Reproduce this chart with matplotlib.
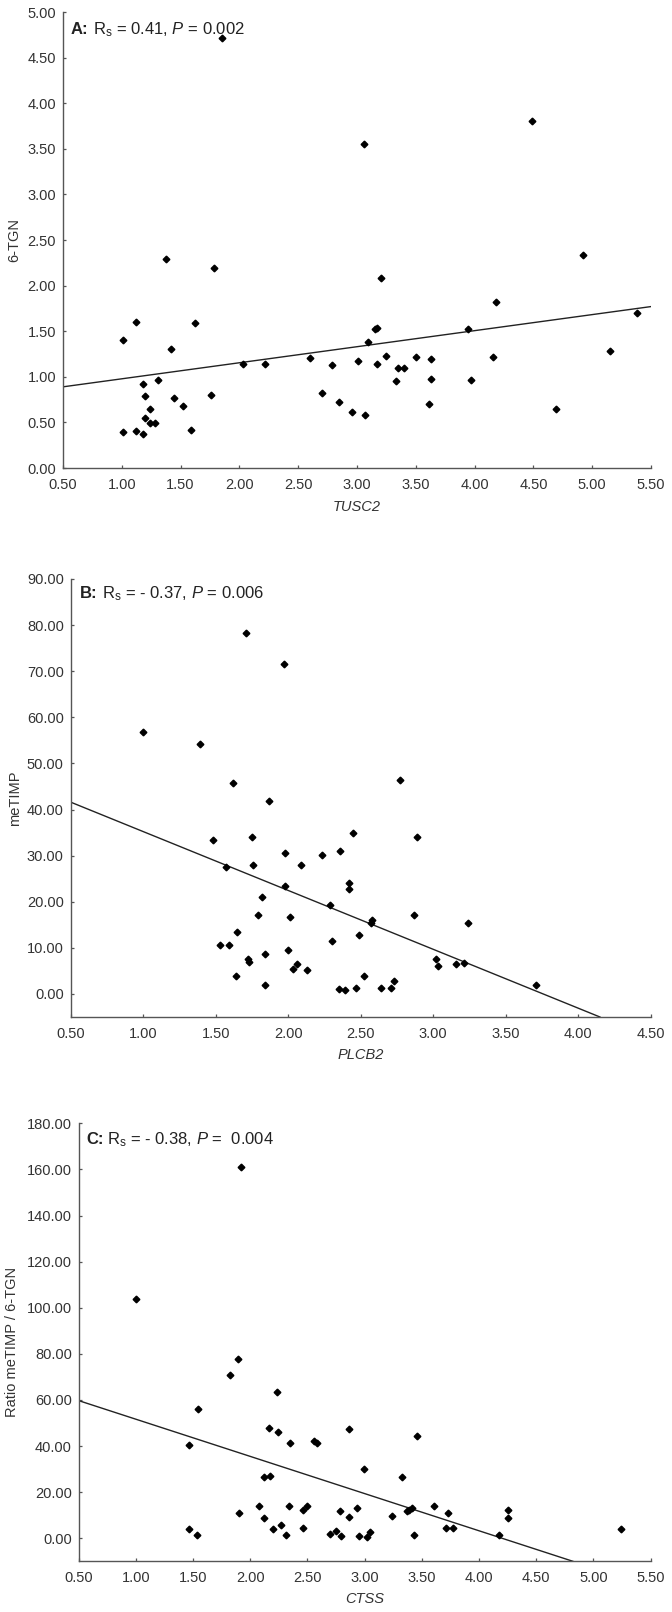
import matplotlib
matplotlib.use('Agg')
import matplotlib.pyplot as plt
from matplotlib.ticker import FormatStrFormatter
import numpy as np

plt.rcParams['font.family'] = ['Liberation Sans', 'DejaVu Sans']
plt.rcParams['mathtext.fontset'] = 'custom'
plt.rcParams['mathtext.rm'] = 'Liberation Sans'
plt.rcParams['mathtext.it'] = 'Liberation Sans:italic'
plt.rcParams['mathtext.bf'] = 'Liberation Sans:bold'

# ---------------- Panel A data ----------------
a_x = [1.01, 1.12, 1.38, 1.78, 1.62, 1.42, 1.18, 1.31, 1.20, 1.44, 1.76, 1.52, 1.24, 1.20,
       1.24, 1.28, 1.01, 1.12, 1.18, 1.59, 2.03, 2.22, 2.60, 2.79, 2.70, 2.85, 1.85, 3.06,
       4.49, 4.92, 3.20, 4.18, 5.38, 3.94, 3.15, 3.17, 3.09, 5.15, 3.01, 3.25, 3.17, 3.50,
       3.63, 4.16, 3.35, 3.40, 3.33, 3.63, 3.97, 2.96, 3.07, 3.61, 4.69]
a_y = [1.40, 1.60, 2.29, 2.19, 1.59, 1.31, 0.92, 0.97, 0.79, 0.77, 0.80, 0.68, 0.65, 0.55,
       0.49, 0.49, 0.39, 0.41, 0.37, 0.42, 1.14, 1.14, 1.21, 1.13, 0.82, 0.72, 4.72, 3.55,
       3.81, 2.34, 2.08, 1.82, 1.70, 1.52, 1.52, 1.53, 1.38, 1.28, 1.17, 1.23, 1.14, 1.22,
       1.20, 1.22, 1.10, 1.10, 0.95, 0.98, 0.96, 0.61, 0.58, 0.70, 0.65]
a_line_x = [0.50, 5.50]
a_line_y = [0.89, 1.77]
a_xticks = [0.5, 1.0, 1.5, 2.0, 2.5, 3.0, 3.5, 4.0, 4.5, 5.0, 5.5]
a_yticks = [0.0, 0.5, 1.0, 1.5, 2.0, 2.5, 3.0, 3.5, 4.0, 4.5, 5.0]

# ---------------- Panel B data ----------------
b_x = [1.00, 1.39, 1.71, 1.97, 1.62, 1.87, 1.48, 1.75, 1.98, 2.23, 2.36, 1.57, 1.76, 2.09,
       1.98, 2.29, 1.82, 1.79, 2.01, 1.65, 2.30, 1.53, 1.59, 2.00, 1.84, 1.72, 1.73, 2.06,
       2.03, 2.13, 1.64, 1.84, 2.35, 2.77, 2.45, 2.89, 2.42, 2.42, 2.87, 2.58, 2.57, 3.24,
       2.49, 3.02, 3.03, 3.16, 3.21, 2.52, 2.73, 2.39, 2.47, 2.64, 2.71, 3.71]
b_y = [56.8, 54.2, 78.2, 71.5, 45.7, 41.9, 33.4, 34.1, 30.6, 30.1, 31.0, 27.5, 28.0, 28.0,
       23.5, 19.4, 21.0, 17.2, 16.6, 13.5, 11.5, 10.6, 10.6, 9.5, 8.7, 7.6, 6.9, 6.5,
       5.4, 5.1, 4.0, 2.0, 1.1, 46.3, 34.9, 34.1, 24.1, 22.8, 17.1, 16.0, 15.3, 15.3,
       12.7, 7.6, 6.0, 6.4, 6.8, 4.0, 2.7, 0.9, 1.3, 1.2, 1.3, 2.0]
b_line_x = [0.50, 4.15]
b_line_y = [41.6, -5.0]
b_xticks = [0.5, 1.0, 1.5, 2.0, 2.5, 3.0, 3.5, 4.0, 4.5]
b_yticks = [0, 10, 20, 30, 40, 50, 60, 70, 80, 90]

# ---------------- Panel C data ----------------
c_x = [1.92, 1.00, 1.89, 1.82, 2.23, 1.54, 2.16, 2.24, 2.56, 2.58, 2.35, 1.46, 2.12, 2.17,
       2.08, 2.34, 2.50, 2.46, 2.78, 1.90, 2.12, 2.27, 2.20, 2.46, 1.46, 1.53, 2.31, 2.70,
       2.75, 2.79, 2.86, 3.46, 2.99, 3.33, 3.61, 2.93, 3.41, 3.39, 3.37, 3.73, 4.25, 4.25,
       2.86, 3.24, 3.71, 3.77, 5.24, 2.95, 3.02, 3.05, 3.43, 4.17]
c_y = [161.0, 103.8, 77.6, 70.7, 63.6, 55.9, 47.7, 46.3, 42.3, 41.5, 41.5, 40.5, 26.5, 27.1,
       13.9, 14.2, 14.0, 12.1, 12.0, 11.0, 8.7, 5.6, 3.8, 4.4, 3.8, 1.6, 1.5, 2.0,
       3.0, 0.9, 47.3, 44.2, 30.1, 26.5, 14.0, 13.2, 13.2, 12.3, 11.7, 11.1, 12.4, 8.8,
       9.3, 9.8, 4.3, 4.3, 4.2, 1.0, 0.4, 2.9, 1.3, 1.3]
c_line_x = [0.50, 4.82]
c_line_y = [59.7, -10.0]
c_xticks = [0.5, 1.0, 1.5, 2.0, 2.5, 3.0, 3.5, 4.0, 4.5, 5.0, 5.5]
c_yticks = [0, 20, 40, 60, 80, 100, 120, 140, 160, 180]

W, H = 672, 1612
fig = plt.figure(figsize=(W / 100, H / 100), dpi=100)

def px_axes(left, right, top, bottom):
    return fig.add_axes([left / W, 1 - bottom / H, (right - left) / W, (bottom - top) / H])

TXT = '#333333'
SP = '#555555'
FS = 10.5

def style(ax, xt, yt, xlim, ylim, xlabel, ylabel, top, bottom, left, ylab_x, xlab_y):
    ax.set_xlim(*xlim)
    ax.set_ylim(*ylim)
    ax.set_xticks(xt)
    ax.set_yticks(yt)
    ax.xaxis.set_major_formatter(FormatStrFormatter('%.2f'))
    ax.yaxis.set_major_formatter(FormatStrFormatter('%.2f'))
    for s in ['top', 'right']:
        ax.spines[s].set_visible(False)
    for s in ['left', 'bottom']:
        ax.spines[s].set_color(SP)
        ax.spines[s].set_linewidth(1.0)
    ax.tick_params(direction='in', length=2.5, width=0.9, color=SP,
                   labelsize=FS, labelcolor=TXT)
    ax.tick_params(axis='x', pad=7)
    ax.tick_params(axis='y', pad=5)
    ax.set_xlabel(xlabel, fontsize=FS, color=TXT, style='italic', va='center')
    ax.xaxis.set_label_coords(0.5, -(xlab_y - bottom) / (bottom - top))
    ax.set_ylabel(ylabel, fontsize=FS, color=TXT, va='center')
    ax.yaxis.set_label_coords(-(left - ylab_x) / ax.bbox.width * 1.0, 0.5)

def title(letter, rest, x, ybase):
    t1 = fig.text(x / W, 1 - ybase / H, letter, fontsize=12, fontweight='bold',
                  color='#222222', va='baseline', ha='left')
    r = fig.canvas.get_renderer()
    bb = t1.get_window_extent(r)
    fig.text((bb.x1 + 4) / W, 1 - ybase / H, rest, fontsize=12, color='#222222',
             va='baseline', ha='left')

# Panel A
axA = px_axes(63, 651, 12, 468)
axA.plot(a_line_x, a_line_y, color='#222222', lw=1.0)
axA.plot(a_x, a_y, 'D', color='black', ms=3.4, mec='black', clip_on=False)
style(axA, a_xticks, a_yticks, (0.5, 5.5), (0.0, 5.0), 'TUSC2', '6-TGN',
      12, 468, 63, 14, 507)
title('A:', r'R$_\mathrm{s}$ = 0.41, $P$ = 0.002', 71, 34.5)

# Panel B
axB = px_axes(70.7, 650.7, 579, 1017)
axB.plot(b_line_x, b_line_y, color='#222222', lw=1.0)
axB.plot(b_x, b_y, 'D', color='black', ms=3.4, mec='black', clip_on=False)
style(axB, b_xticks, b_yticks, (0.5, 4.5), (-5, 90), 'PLCB2', 'meTIMP',
      579, 1017, 70.7, 15, 1055)
title('B:', r'R$_\mathrm{s}$ = - 0.37, $P$ = 0.006', 80, 598)

# Panel C
axC = px_axes(78.7, 650.7, 1123.3, 1561.3)
axC.plot(c_line_x, c_line_y, color='#222222', lw=1.0)
axC.plot(c_x, c_y, 'D', color='black', ms=3.4, mec='black', clip_on=False)
style(axC, c_xticks, c_yticks, (0.5, 5.5), (-10, 180), 'CTSS', 'Ratio meTIMP / 6-TGN',
      1123.3, 1561.3, 78.7, 12.5, 1599)
title('C:', r'R$_\mathrm{s}$ = - 0.38, $P$ =  0.004', 86, 1144)

fig.savefig('out.png', dpi=100, facecolor='white')
